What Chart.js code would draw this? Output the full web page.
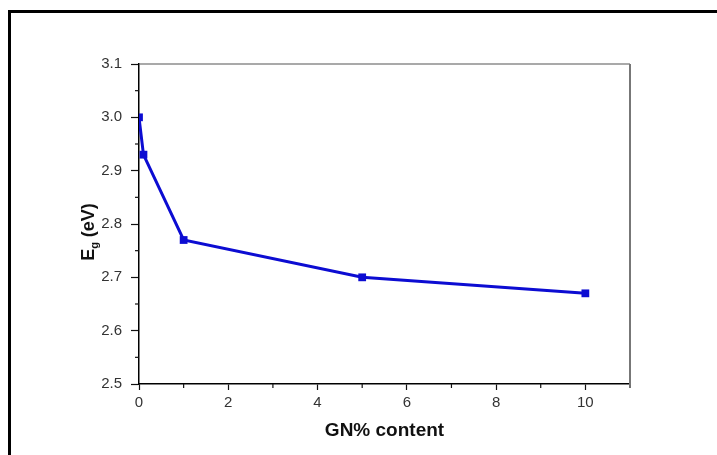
<!DOCTYPE html>
<html>
<head>
<meta charset="utf-8">
<script src="https://cdn.jsdelivr.net/npm/chart.js@4/dist/chart.umd.min.js"></script>
<style>
    html, body { margin: 0; padding: 0; background: #fff; overflow: hidden; }
    #wrap { position: relative; width: 717px; height: 455px; }
    #frame { position: absolute; left: 8px; top: 10px; width: 740px; height: 480px; border: 3px solid #000; box-sizing: border-box; }
    #gapChart { position: absolute; left: 0; top: 0; }
</style>
</head>
<body>
<div id="wrap">
    <div id="frame"></div>
    <canvas id="gapChart" width="717" height="455"></canvas>
</div>
<script>
// GN% content vs band gap
const gnContent = [0, 0.1, 1, 5, 10];
const bandGap = [3.00, 2.93, 2.77, 2.70, 2.67];
const xTicks = [0, 2, 4, 6, 8, 10];
const yTicks = [2.5, 2.6, 2.7, 2.8, 2.9, 3.0, 3.1];

const blue = '#0c0cd2';

// minor ticks + box + y title with subscript
const extras = {
    id: 'extras',
    afterDraw(chart) {
        const { ctx, chartArea, scales } = chart;
        const x = scales.x, y = scales.y;
        ctx.save();
        ctx.strokeStyle = '#111';
        ctx.lineWidth = 1.2;
        // minor ticks on x (odd values)
        for (let v = 1; v <= 11; v += 2) {
            const px = x.getPixelForValue(v);
            ctx.beginPath();
            ctx.moveTo(px, chartArea.bottom);
            ctx.lineTo(px, chartArea.bottom + 4);
            ctx.stroke();
        }
        // minor ticks on y (half steps)
        for (let i = 0; i < yTicks.length - 1; i++) {
            const v = (yTicks[i] + yTicks[i + 1]) / 2;
            const py = y.getPixelForValue(v);
            ctx.beginPath();
            ctx.moveTo(chartArea.left, py);
            ctx.lineTo(chartArea.left - 4, py);
            ctx.stroke();
        }
        // top and right frame lines
        ctx.strokeStyle = '#555';
        ctx.lineWidth = 1.2;
        ctx.beginPath();
        ctx.moveTo(chartArea.left, chartArea.top);
        ctx.lineTo(chartArea.right, chartArea.top);
        ctx.stroke();
        ctx.strokeStyle = '#777';
        ctx.lineWidth = 2;
        ctx.beginPath();
        ctx.moveTo(chartArea.right, chartArea.top);
        ctx.lineTo(chartArea.right, chartArea.bottom + 1);
        ctx.stroke();

        // y title: E_g (eV)
        ctx.translate(89, (chartArea.top + chartArea.bottom) / 2 + 8);
        ctx.rotate(-Math.PI / 2);
        ctx.fillStyle = '#111';
        ctx.textBaseline = 'middle';
        const big = 'bold 18px "Liberation Sans", Arial, sans-serif';
        const small = 'bold 11px "Liberation Sans", Arial, sans-serif';
        ctx.font = big;
        const wE = ctx.measureText('E').width;
        const wRest = ctx.measureText(' (eV)').width;
        ctx.font = small;
        const wg = ctx.measureText('g').width;
        let cx = -(wE + wg + wRest) / 2;
        ctx.font = big;
        ctx.fillText('E', cx, 0);
        cx += wE;
        ctx.font = small;
        ctx.fillText('g', cx, 6);
        cx += wg;
        ctx.font = big;
        ctx.fillText(' (eV)', cx, 0);
        ctx.restore();
    }
};

new Chart(document.getElementById('gapChart').getContext('2d'), {
    type: 'scatter',
    data: {
        datasets: [{
            data: gnContent.map((v, i) => ({ x: v, y: bandGap[i] })),
            showLine: true,
            borderColor: blue,
            backgroundColor: blue,
            borderWidth: 3,
            pointStyle: 'rect',
            pointRadius: 5.5,
            pointBorderWidth: 0,
            tension: 0
        }]
    },
    options: {
        responsive: false,
        animation: false,
        layout: { padding: { left: 0, top: 64, right: 87, bottom: 0 } },
        plugins: {
            legend: { display: false },
            tooltip: { enabled: false }
        },
        scales: {
            x: {
                type: 'linear',
                min: 0,
                max: 11,
                afterFit: (s) => { s.height = 71; },
                afterBuildTicks: (s) => { s.ticks = xTicks.map(v => ({ value: v })); },
                ticks: {
                    color: '#333',
                    padding: 4,
                    font: { family: '"Liberation Sans", Arial, sans-serif', size: 15 },
                    callback: (v) => String(v)
                },
                grid: { drawOnChartArea: false, tickLength: 6, tickColor: '#111', tickWidth: 1.2 },
                border: { color: '#000', width: 1.5 },
                title: {
                    display: true,
                    text: 'GN% content',
                    color: '#111',
                    padding: { top: 6, bottom: 13 },
                    font: { family: '"Liberation Sans", Arial, sans-serif', size: 19, weight: 'bold' }
                }
            },
            y: {
                min: 2.5,
                max: 3.1,
                afterFit: (s) => { s.width = 139; },
                afterBuildTicks: (s) => { s.ticks = yTicks.map(v => ({ value: v })); },
                ticks: {
                    color: '#333',
                    padding: 9,
                    font: { family: '"Liberation Sans", Arial, sans-serif', size: 15 },
                    callback: (v) => v.toFixed(1)
                },
                grid: { drawOnChartArea: false, tickLength: 8, tickColor: '#111', tickWidth: 1.2 },
                border: { color: '#000', width: 1.5 }
            }
        }
    },
    plugins: [extras]
});
</script>
</body>
</html>
